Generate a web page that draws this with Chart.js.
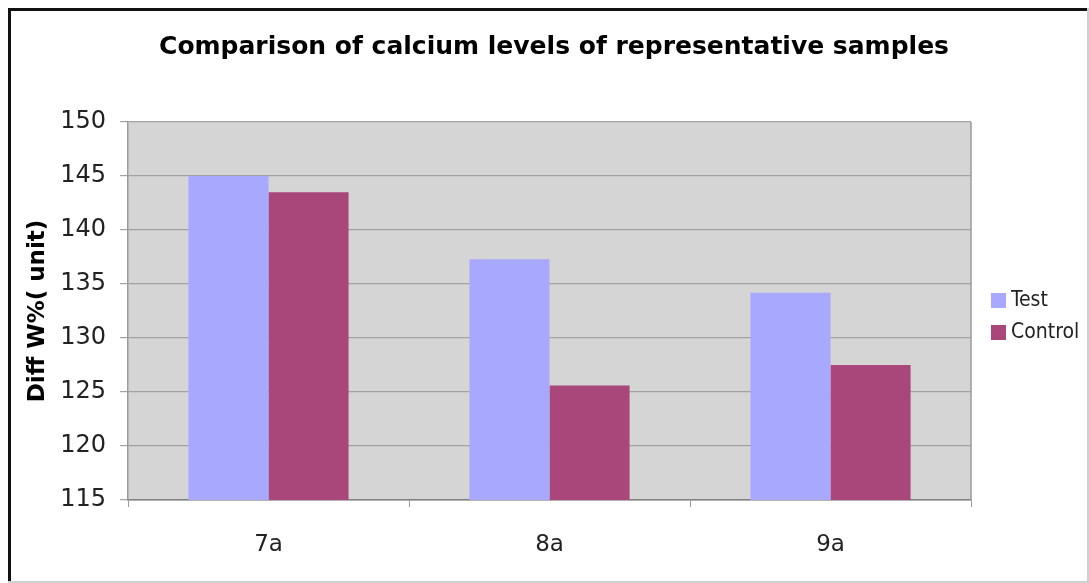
<!DOCTYPE html>
<html>
<head>
<meta charset="utf-8">
<script src="https://cdn.jsdelivr.net/npm/chart.js@4"></script>
<style>
  html, body { margin: 0; padding: 0; background: #ffffff; }
  #wrap { width: 1089px; height: 583px; position: relative; }
</style>
</head>
<body>
<div id="wrap"><canvas id="chart" width="1089" height="583"></canvas></div>
<script>
// Sample groups and their calcium readings
const categories = ['7a', '8a', '9a'];
const testValues = [145.0, 137.3, 134.2];
const controlValues = [143.5, 125.6, 127.5];
const seriesNames = ['Test', 'Control'];
const yTicks = [115, 120, 125, 130, 135, 140, 145, 150];
const chartTitle = 'Comparison of calcium levels of representative samples';

const TEST_COLOR = '#a8a8ff';
const CONTROL_COLOR = '#a9477a';

// Grey plot background plus the right-hand edge of the plot frame
const plotBackground = {
  id: 'plotBackground',
  beforeDraw(chart) {
    const { ctx, chartArea: a } = chart;
    ctx.save();
    ctx.fillStyle = '#d5d5d5';
    ctx.fillRect(a.left, a.top, a.right - a.left, a.bottom - a.top);
    ctx.restore();
  },
  afterDatasetsDraw(chart) {
    const { ctx, chartArea: a } = chart;
    ctx.save();
    ctx.strokeStyle = '#9a9a9a';
    ctx.lineWidth = 1.5;
    ctx.beginPath();
    ctx.moveTo(a.right, a.top);
    ctx.lineTo(a.right, a.bottom);
    ctx.stroke();
    ctx.restore();
  }
};

// Bold heading centred over the whole figure
const heading = {
  id: 'heading',
  afterDraw(chart) {
    const { ctx } = chart;
    ctx.save();
    ctx.font = 'bold 25px "DejaVu Sans", sans-serif';
    ctx.fillStyle = '#000000';
    ctx.textAlign = 'center';
    ctx.textBaseline = 'middle';
    ctx.fillText(chartTitle, 554, 47);
    ctx.restore();
  }
};

// Legend to the right of the plot
const sideLegend = {
  id: 'sideLegend',
  afterDraw(chart) {
    const { ctx } = chart;
    ctx.save();
    ctx.font = '21px "DejaVu Sans Condensed", "DejaVu Sans", sans-serif';
    ctx.textBaseline = 'middle';
    ctx.textAlign = 'left';
    chart.data.datasets.forEach((ds, i) => {
      const y = 300 + i * 32;
      ctx.fillStyle = ds.backgroundColor;
      ctx.fillRect(991, y - 7, 15, 15);
      ctx.fillStyle = '#222222';
      ctx.fillText(ds.label, 1011, y + 1);
    });
    ctx.restore();
  }
};

// Picture frame: dark on the top and left edges, pale on the others
const frame = {
  id: 'frame',
  afterDraw(chart) {
    const { ctx, width, height } = chart;
    ctx.save();
    ctx.fillStyle = '#111111';
    ctx.fillRect(8, 8, width - 8, 3);
    ctx.fillRect(8, 8, 3, height - 8);
    ctx.fillStyle = '#d0d0d0';
    ctx.fillRect(width - 2, 8, 2, height - 8);
    ctx.fillRect(8, height - 2, width - 8, 2);
    ctx.restore();
  }
};

new Chart(document.getElementById('chart'), {
  type: 'bar',
  data: {
    labels: categories,
    datasets: [
      { label: seriesNames[0], data: testValues, backgroundColor: TEST_COLOR },
      { label: seriesNames[1], data: controlValues, backgroundColor: CONTROL_COLOR }
    ]
  },
  options: {
    responsive: false,
    animation: false,
    devicePixelRatio: 1,
    layout: { padding: { left: 0, right: 118, top: 122, bottom: 0 } },
    datasets: {
      bar: { categoryPercentage: 0.57, barPercentage: 1.0, borderWidth: 0 }
    },
    plugins: {
      legend: { display: false },
      tooltip: { enabled: false },
      title: { display: false }
    },
    scales: {
      x: {
        offset: true,
        grid: {
          offset: true,
          drawOnChartArea: false,
          drawTicks: true,
          tickLength: 7,
          color: '#9a9a9a'
        },
        border: { display: true, color: '#808080', width: 1.5 },
        ticks: {
          color: '#222222',
          padding: 24,
          font: { family: '"DejaVu Sans", sans-serif', size: 23 }
        },
        afterFit(scale) { scale.height = 83; }
      },
      y: {
        min: 115,
        max: 150,
        afterBuildTicks(scale) { scale.ticks = yTicks.map(v => ({ value: v })); },
        grid: {
          color: '#a2a2a2',
          lineWidth: 1.2,
          tickLength: 8,
          drawTicks: true
        },
        border: { display: true, color: '#9a9a9a', width: 1.5 },
        ticks: {
          color: '#222222',
          padding: 14,
          font: { family: '"DejaVu Sans", sans-serif', size: 24 }
        },
        title: {
          display: true,
          text: 'Diff W%( unit)',
          color: '#000000',
          font: { family: '"DejaVu Sans", sans-serif', size: 23, weight: 'bold', lineHeight: 1.2 },
          padding: { top: 24, bottom: 0 }
        },
        afterFit(scale) { scale.width = 128; }
      }
    }
  },
  plugins: [plotBackground, heading, sideLegend, frame]
});
</script>
</body>
</html>
